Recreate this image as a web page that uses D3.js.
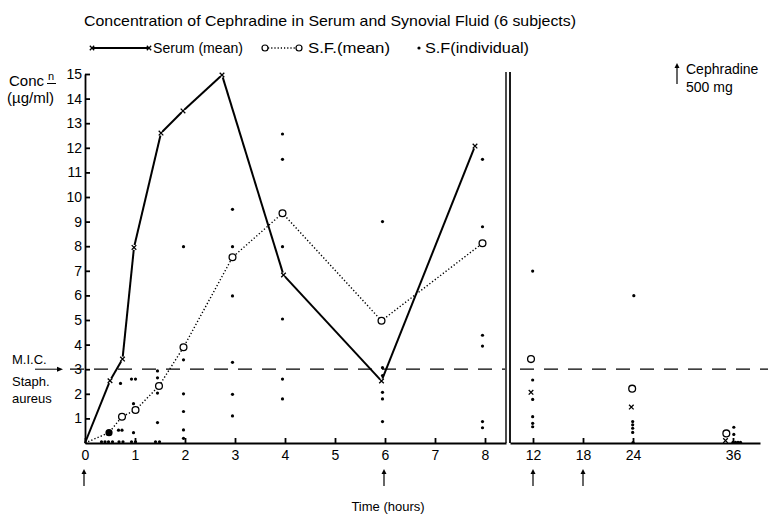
<!DOCTYPE html>
<html><head><meta charset="utf-8">
<script src="https://cdn.jsdelivr.net/npm/d3@7"></script>
<style>
body{margin:0;background:#fff;}
svg{display:block;font-family:"Liberation Sans",Arial,Helvetica,sans-serif;}
</style></head>
<body><svg id="c" width="768" height="523"></svg>
<script>
// ---- data ----
const leftTicks = [0,1,2,3,4,5,6,7,8];
const rightTicks = [12,18,24,36];
const yTicks = [1,2,3,4,5,6,7,8,9,10,11,12,13,14,15];
const doseTimesL = [0,6];
const doseTimesR = [12,18];
const micValue = 3;

const serumTimesL = [0,0.5,0.75,0.98,1.52,1.96,2.74,3.97,5.93,7.8];
const serumMeanL  = [0,2.53,3.41,7.95,12.6,13.5,14.96,6.83,2.52,12.07];
const sfTimesL    = [0,0.48,0.74,1.01,1.48,1.97,2.95,3.95,5.93,7.95];
const sfMeanL     = [0,0.42,1.07,1.34,2.32,3.89,7.55,9.34,4.97,8.12];

const serumTimesR = [11.76,23.8,35.1];
const serumMeanR  = [2.06,1.46,0.1];
const sfTimesR    = [11.76,23.9,35.2];
const sfMeanR     = [3.41,2.21,0.39];

const sfIndividualL = [
  [0.33,0.05],[0.4,0.05],[0.47,0.05],[0.55,0.05],
  [0.68,0.05],[0.76,0.05],[0.67,0.52],[0.74,0.52],[0.71,2.42],
  [0.93,2.6],[1.01,2.6],[0.97,1.6],[0.97,0.42],[0.93,0.05],[1.01,0.05],
  [1.45,2.93],[1.45,2.65],[1.45,2.03],[1.45,0.83],[1.41,0.05],[1.49,0.05],
  [1.97,7.98],[1.97,3.38],[1.97,2.0],[1.97,1.28],[1.97,0.53],[1.97,0.19],
  [2.95,9.5],[2.95,7.98],[2.95,5.98],[2.95,3.28],[2.95,1.98],[2.95,1.1],
  [3.95,12.56],[3.95,11.53],[3.95,7.98],[3.95,5.04],[3.95,2.6],[3.95,1.79],
  [5.95,9.0],[5.95,3.06],[5.95,2.74],[5.95,2.06],[5.95,1.79],[5.95,0.87],
  [7.95,11.53],[7.95,8.79],[7.95,4.38],[7.95,3.94],[7.95,0.87],[7.95,0.62]
];
const sfIndividualR = [
  [11.96,6.99],[11.96,2.56],[11.96,1.77],[11.96,1.07],[11.96,0.8],[11.96,0.66],
  [24.1,5.99],[23.96,0.87],[23.96,0.74],[23.96,0.6],[23.96,0.43],[24.0,0.02],
  [36.1,0.64],[36.1,0.35],[36.0,0.03],[36.3,0.03],[36.6,0.03],[36.9,0.03]
];

// ---- scales ----
const svg = d3.select("#c");
const xL = d3.scaleLinear().domain([0,8.42]).range([85,506]);
const xR = d3.scaleLinear().domain([9.24,39.24]).range([510,760]);
const y  = d3.scaleLinear().domain([0,15]).range([443,74]);

// ---- title & legend ----
svg.append("text").attr("x",84).attr("y",26).attr("font-size",15)
  .attr("textLength",492).attr("lengthAdjust","spacingAndGlyphs")
  .text("Concentration of Cephradine in Serum and Synovial Fluid (6 subjects)");

const lg = svg.append("g");
const ly = 48;
function cross(g,cx,cy,s){
  g.append("path").attr("d",`M${cx-s},${cy-s}L${cx+s},${cy+s}M${cx-s},${cy+s}L${cx+s},${cy-s}`)
   .attr("stroke","#000").attr("stroke-width",1.3).attr("fill","none");
}
lg.append("line").attr("x1",92).attr("x2",148).attr("y1",ly).attr("y2",ly).attr("stroke","#000").attr("stroke-width",2);
cross(lg,92,ly,2.2); cross(lg,149,ly,2.2);
lg.append("text").attr("x",153).attr("y",ly+5).attr("font-size",15).attr("textLength",90).attr("lengthAdjust","spacingAndGlyphs").text("Serum (mean)");
lg.append("line").attr("x1",268).attr("x2",296).attr("y1",ly).attr("y2",ly).attr("stroke","#000").attr("stroke-width",1.3).attr("stroke-dasharray","1.2,2");
lg.append("circle").attr("cx",265).attr("cy",ly).attr("r",3).attr("fill","#fff").attr("stroke","#000").attr("stroke-width",1.2);
lg.append("circle").attr("cx",299).attr("cy",ly).attr("r",3).attr("fill","#fff").attr("stroke","#000").attr("stroke-width",1.2);
lg.append("text").attr("x",308).attr("y",ly+5).attr("font-size",15).attr("textLength",82).attr("lengthAdjust","spacingAndGlyphs").text("S.F.(mean)");
lg.append("circle").attr("cx",419).attr("cy",ly).attr("r",1.6).attr("fill","#000");
lg.append("text").attr("x",425).attr("y",ly+5).attr("font-size",15).attr("textLength",104).attr("lengthAdjust","spacingAndGlyphs").text("S.F(individual)");

// dose legend
function upArrow(g,x,y1,y2){
  g.append("line").attr("x1",x).attr("x2",x).attr("y1",y1).attr("y2",y2+4).attr("stroke","#000").attr("stroke-width",1.2);
  g.append("path").attr("d",`M${x-2.5},${y2+5}L${x},${y2}L${x+2.5},${y2+5}Z`).attr("fill","#000");
}
upArrow(svg,677,84,63);
svg.append("text").attr("x",686).attr("y",74).attr("font-size",14).text("Cephradine");
svg.append("text").attr("x",686).attr("y",92).attr("font-size",14).text("500 mg");

// y label
svg.append("text").attr("x",9).attr("y",86).attr("font-size",15).text("Conc");
svg.append("text").attr("x",48).attr("y",80).attr("font-size",11).text("n");
svg.append("line").attr("x1",47).attr("x2",56).attr("y1",83.5).attr("y2",83.5).attr("stroke","#000").attr("stroke-width",1);
svg.append("text").attr("x",7).attr("y",103).attr("font-size",15).text("(\u00b5g/ml)");

// MIC label
svg.append("text").attr("x",12).attr("y",364).attr("font-size",13).text("M.I.C.");
svg.append("line").attr("x1",35).attr("x2",58).attr("y1",y(micValue)).attr("y2",y(micValue)).attr("stroke","#000").attr("stroke-width",1);
svg.append("path").attr("d",`M57,${y(micValue)-2.5}L63,${y(micValue)}L57,${y(micValue)+2.5}Z`).attr("fill","#000");
svg.append("text").attr("x",12).attr("y",386).attr("font-size",13).text("Staph.");
svg.append("text").attr("x",12).attr("y",403).attr("font-size",13).text("aureus");

// ---- axes ----
const axStyle = g => { g.selectAll("path,line").attr("stroke","#000").attr("stroke-width",1.8);
  g.selectAll("text").attr("font-size",14).attr("fill","#000").attr("font-family","Liberation Sans, Arial, sans-serif"); };
svg.append("g").attr("transform","translate(85,0)")
  .call(d3.axisLeft(y).tickValues(yTicks).tickSizeInner(-5).tickSizeOuter(0).tickPadding(3).tickFormat(d3.format("d")))
  .call(axStyle);
svg.append("g").attr("transform","translate(0,443)")
  .call(d3.axisBottom(xL).tickValues(leftTicks).tickSizeInner(-5).tickSizeOuter(0).tickPadding(7).tickFormat(d3.format("d")))
  .call(axStyle);
svg.append("g").attr("transform","translate(0,443)")
  .call(d3.axisBottom(xR).tickValues(rightTicks).tickSizeInner(-5).tickSizeOuter(0).tickPadding(7).tickFormat(d3.format("d")))
  .call(axStyle);

// break lines
svg.append("line").attr("x1",xL.range()[1]).attr("x2",xL.range()[1]).attr("y1",72).attr("y2",443).attr("stroke","#000").attr("stroke-width",1.4);
svg.append("line").attr("x1",xR.range()[0]).attr("x2",xR.range()[0]).attr("y1",72).attr("y2",443).attr("stroke","#000").attr("stroke-width",1.8);

// MIC dashed line
svg.append("line").attr("x1",70).attr("x2",xL.range()[1]-1).attr("y1",y(micValue)).attr("y2",y(micValue))
  .attr("stroke","#000").attr("stroke-width",1.2).attr("stroke-dasharray","14,10");
svg.append("line").attr("x1",520).attr("x2",768).attr("y1",y(micValue)).attr("y2",y(micValue))
  .attr("stroke","#000").attr("stroke-width",1.2).attr("stroke-dasharray","14,10");

// dose arrows under axis
doseTimesL.forEach(t=>upArrow(svg,xL(t)-1,486,469));
doseTimesR.forEach(t=>upArrow(svg,xR(t),486,469));

svg.append("text").attr("x",388).attr("y",511).attr("text-anchor","middle").attr("font-size",13).text("Time (hours)");

// ---- S.F. individual dots ----
svg.append("g").selectAll("circle").data(sfIndividualL).join("circle")
  .attr("cx",d=>xL(d[0])).attr("cy",d=>y(d[1])).attr("r",1.6).attr("fill","#000");
svg.append("g").selectAll("circle").data(sfIndividualR).join("circle")
  .attr("cx",d=>xR(d[0])).attr("cy",d=>y(d[1])).attr("r",1.6).attr("fill","#000");

// ---- S.F. mean dotted line ----
const sfPts = sfTimesL.map((t,i)=>[xL(t),y(sfMeanL[i])]);
svg.append("path").attr("d",d3.line()(sfPts)).attr("fill","none").attr("stroke","#000")
  .attr("stroke-width",1.4).attr("stroke-dasharray","1.3,2.1");
svg.append("g").selectAll("circle").data(sfPts.slice(2)).join("circle")
  .attr("cx",d=>d[0]).attr("cy",d=>d[1]).attr("r",3.4).attr("fill","#fff").attr("stroke","#000").attr("stroke-width",1.3);
svg.append("circle").attr("cx",sfPts[1][0]).attr("cy",sfPts[1][1]).attr("r",3.6).attr("fill","#000");
svg.append("g").selectAll("circle").data(sfTimesR.map((t,i)=>[xR(t),y(sfMeanR[i])])).join("circle")
  .attr("cx",d=>d[0]).attr("cy",d=>d[1]).attr("r",3.4).attr("fill","#fff").attr("stroke","#000").attr("stroke-width",1.3);

// ---- Serum mean solid line with small gaps at markers ----
const sePts = serumTimesL.map((t,i)=>[xL(t),y(serumMeanL[i])]);
const gap = 2.5;
for(let i=0;i<sePts.length-1;i++){
  const [x1,y1]=sePts[i],[x2,y2]=sePts[i+1];
  const len=Math.hypot(x2-x1,y2-y1), ux=(x2-x1)/len, uy=(y2-y1)/len;
  const g1 = i===0?0:gap;
  svg.append("line").attr("x1",x1+ux*g1).attr("y1",y1+uy*g1).attr("x2",x2-ux*gap).attr("y2",y2-uy*gap)
    .attr("stroke","#000").attr("stroke-width",2);
}
sePts.slice(1).forEach(p=>cross(svg,p[0],p[1],2.3));
serumTimesR.forEach((t,i)=>cross(svg,xR(t),y(serumMeanR[i]),2.3));
</script></body></html>
